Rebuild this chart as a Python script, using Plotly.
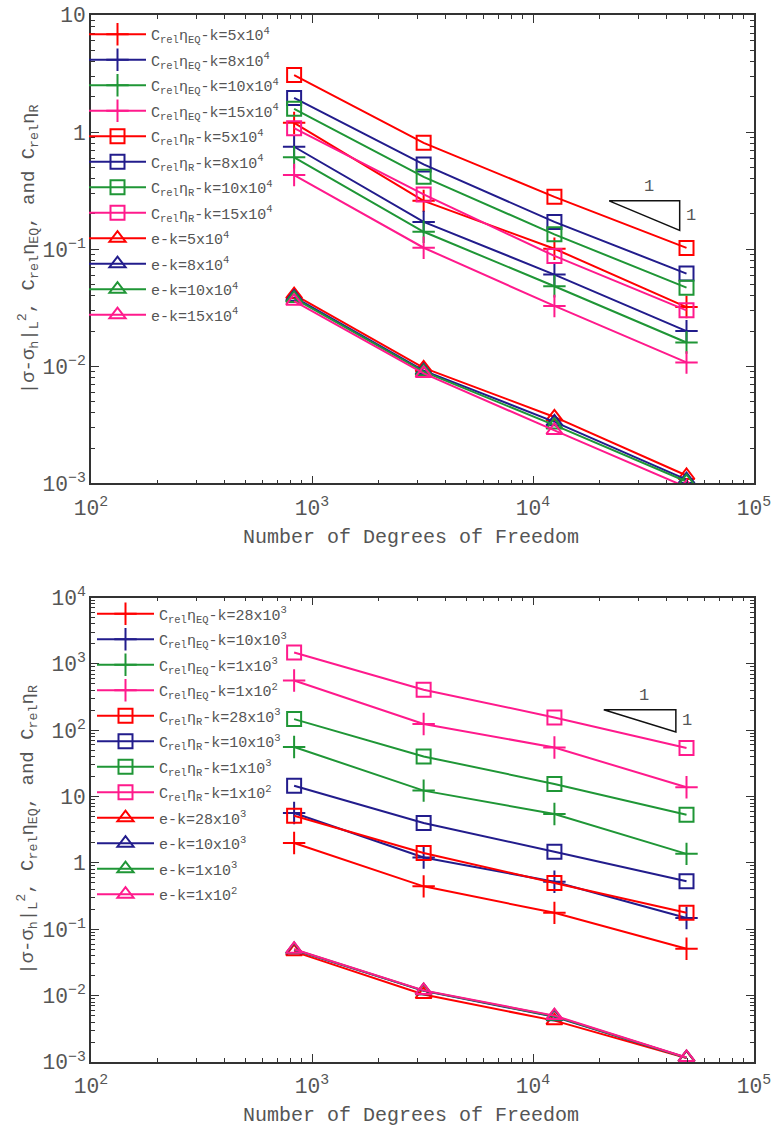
import math
import plotly.graph_objects as go

# ---------------- data ----------------
dof = [830, 3200, 12500, 49500]

# top panel
top_labels_k = ["5x10<sup>4</sup>", "8x10<sup>4</sup>", "10x10<sup>4</sup>", "15x10<sup>4</sup>"]
top_eq_k5 = [1.20, 0.259, 0.101, 0.0321]
top_eq_k8 = [0.75, 0.171, 0.0608, 0.0200]
top_eq_k10 = [0.61, 0.141, 0.0483, 0.0160]
top_eq_k15 = [0.43, 0.103, 0.0328, 0.0108]
top_r_k5 = [3.07, 0.81, 0.280, 0.1026]
top_r_k8 = [1.96, 0.53, 0.171, 0.0620]
top_r_k10 = [1.58, 0.415, 0.134, 0.0470]
top_r_k15 = [1.08, 0.294, 0.0877, 0.0301]
top_e_k5 = [0.041, 0.0097, 0.0037, 0.00117]
top_e_k8 = [0.039, 0.0092, 0.00336, 0.00108]
top_e_k10 = [0.038, 0.0090, 0.00315, 0.00104]
top_e_k15 = [0.036, 0.0087, 0.00284, 0.00093]

# bottom panel
bot_labels_k = ["28x10<sup>3</sup>", "10x10<sup>3</sup>", "1x10<sup>3</sup>", "1x10<sup>2</sup>"]
bot_eq_k28 = [2.0, 0.444, 0.177, 0.051]
bot_eq_k10 = [5.66, 1.21, 0.52, 0.148]
bot_eq_k1 = [55.9, 12.3, 5.47, 1.37]
bot_eq_k01 = [562, 124, 55, 13.8]
bot_r_k28 = [5.15, 1.41, 0.50, 0.177]
bot_r_k10 = [14.6, 4.0, 1.47, 0.53]
bot_r_k1 = [147, 40.3, 15.5, 5.34]
bot_r_k01 = [1486, 407, 156, 54]
bot_e_k28 = [0.046, 0.0104, 0.0042, 0.00115]
bot_e_k10 = [0.049, 0.0118, 0.0048, 0.00116]
bot_e_k1 = [0.0495, 0.0119, 0.0049, 0.00116]
bot_e_k01 = [0.050, 0.0120, 0.0050, 0.00117]

# slope-1 reference triangles
slope_top_x = [22100, 46100]
slope_top_y = [0.259, 0.145]
slope_bot_x = [20900, 44300]
slope_bot_y = [204, 94]

colors = ["#ff0000", "#221c8c", "#1f9636", "#ff1a8c"]

FONT = "Liberation Mono, Courier New, monospace"
GRAY = "#555555"

W, H = 777, 1128
L, R = 91, 754
TOPY, BOTY = 14.8, 1062.5
top_plot = (14.8, 483.6)
bot_plot = (597.7, 1062.5)


def py2paper(py):
    return (BOTY - py) / (BOTY - TOPY)


def px2paper(px):
    return (px - L) / (R - L)


fig = go.Figure()

EQ = "C<sub>rel</sub>η<sub>EQ</sub>-k="
RR = "C<sub>rel</sub>η<sub>R</sub>-k="
EE = "e-k="


def add_group(series, labels, prefix, symbol, size, xa, ya, legend):
    for vals, lab, col in zip(series, labels, colors):
        fig.add_trace(go.Scatter(
            x=dof, y=vals, mode="lines+markers",
            name=prefix + lab,
            line=dict(color=col, width=2),
            marker=dict(symbol=symbol, size=size, color=col,
                        line=dict(color=col, width=2)),
            xaxis=xa, yaxis=ya, legend=legend,
            legendgroup=legend + prefix + lab,
        ))


add_group([top_eq_k5, top_eq_k8, top_eq_k10, top_eq_k15], top_labels_k, EQ,
          "cross-thin-open", 16, "x", "y", "legend")
add_group([top_r_k5, top_r_k8, top_r_k10, top_r_k15], top_labels_k, RR,
          "square-open", 14, "x", "y", "legend")
add_group([top_e_k5, top_e_k8, top_e_k10, top_e_k15], top_labels_k, EE,
          "triangle-up-open", 14, "x", "y", "legend")

add_group([bot_eq_k28, bot_eq_k10, bot_eq_k1, bot_eq_k01], bot_labels_k, EQ,
          "cross-thin-open", 16, "x2", "y2", "legend2")
add_group([bot_r_k28, bot_r_k10, bot_r_k1, bot_r_k01], bot_labels_k, RR,
          "square-open", 14, "x2", "y2", "legend2")
add_group([bot_e_k28, bot_e_k10, bot_e_k1, bot_e_k01], bot_labels_k, EE,
          "triangle-up-open", 14, "x2", "y2", "legend2")

# slope triangles
for sx, sy, xa, ya in [(slope_top_x, slope_top_y, "x", "y"),
                       (slope_bot_x, slope_bot_y, "x2", "y2")]:
    fig.add_trace(go.Scatter(
        x=[sx[0], sx[1], sx[1], sx[0]], y=[sy[0], sy[0], sy[1], sy[0]],
        mode="lines", line=dict(color="#111111", width=1.5),
        showlegend=False, hoverinfo="skip", xaxis=xa, yaxis=ya,
    ))

annotations = []
for sx, sy, xr, yr in [(slope_top_x, slope_top_y, "x", "y"),
                       (slope_bot_x, slope_bot_y, "x2", "y2")]:
    lx0, lx1 = math.log10(sx[0]), math.log10(sx[1])
    ly0, ly1 = math.log10(sy[0]), math.log10(sy[1])
    annotations.append(dict(x=(lx0 + lx1) / 2 + 0.02, y=ly0, xref=xr, yref=yr,
                            text="1", showarrow=False, yanchor="bottom", yshift=3,
                            font=dict(family=FONT, size=17, color=GRAY)))
    annotations.append(dict(x=lx1, y=(ly0 + ly1) / 2 + 0.0, xref=xr, yref=yr,
                            text="1", showarrow=False, xanchor="left", xshift=4,
                            font=dict(family=FONT, size=17, color=GRAY)))

ytitle = ("|σ-σ<sub>h</sub>|<sub>L</sub><sup>2</sup>, C<sub>rel</sub>η<sub>EQ</sub>,"
          " and C<sub>rel</sub>η<sub>R</sub>")
for (a, b) in [top_plot, bot_plot]:
    annotations.append(dict(x=px2paper(28), y=py2paper((a + b) / 2), xref="paper", yref="paper",
                            xanchor="center", yanchor="middle",
                            text=ytitle, textangle=-90, showarrow=False,
                            font=dict(family=FONT, size=19, color=GRAY)))
    annotations.append(dict(x=px2paper(411), y=py2paper(b + 54), xref="paper", yref="paper",
                            xanchor="center", yanchor="middle",
                            text="Number of Degrees of Freedom", showarrow=False,
                            font=dict(family=FONT, size=20, color=GRAY)))

top_dom = [py2paper(top_plot[1]), 1.0]
bot_dom = [0.0, py2paper(bot_plot[0])]

axis_common = dict(
    type="log", dtick=1, exponentformat="power",
    ticks="inside", ticklen=8, tickwidth=1.2, tickcolor="#333333",
    showline=True, linecolor="#333333", linewidth=1.5, mirror="ticks",
    showgrid=False, zeroline=False, automargin=False,
    tickfont=dict(family=FONT, size=17, color=GRAY),
    minor=dict(ticks="inside", ticklen=4, dtick="D1", tickcolor="#333333", showgrid=False),
)

fig.update_layout(
    width=W, height=H,
    margin=dict(l=L, r=W - R, t=TOPY, b=H - BOTY),
    paper_bgcolor="white", plot_bgcolor="white",
    showlegend=True,
    xaxis=dict(axis_common, range=[2, 5], anchor="y", domain=[0, 1], ticklabelstandoff=5),
    yaxis=dict(axis_common, range=[-3, 1], anchor="x", domain=top_dom),
    xaxis2=dict(axis_common, range=[2, 5], anchor="y2", domain=[0, 1], ticklabelstandoff=5),
    yaxis2=dict(axis_common, range=[-3, 4], anchor="x2", domain=bot_dom),
    legend=dict(x=px2paper(84), y=py2paper(TOPY + 3), xanchor="left", yanchor="top",
                bgcolor="rgba(0,0,0,0)",
                font=dict(family=FONT, size=15, color=GRAY), itemwidth=57,
                tracegroupgap=3),
    legend2=dict(x=px2paper(92), y=bot_dom[1], xanchor="left", yanchor="top",
                 bgcolor="rgba(0,0,0,0)",
                 font=dict(family=FONT, size=15, color=GRAY), itemwidth=57,
                 tracegroupgap=3),
    annotations=annotations,
)

fig.write_html("out.html")
